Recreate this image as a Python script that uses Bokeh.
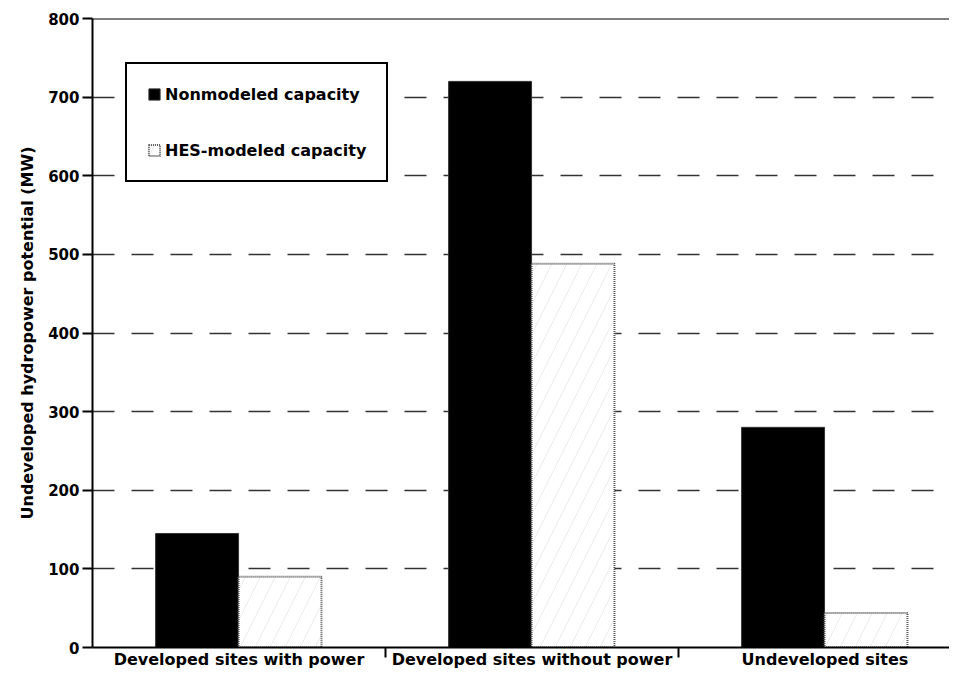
import numpy as np
from bokeh.plotting import figure
from bokeh.models import (ColumnDataSource, Range1d, FixedTicker, Span, Legend, LegendItem)
from bokeh.transform import dodge
from bokeh.embed import file_html
from bokeh.resources import INLINE

categories = ["Developed sites with power", "Developed sites without power", "Undeveloped sites"]
nonmodeled = [145, 720, 280]
hes_modeled = [90, 488, 44]
y_ticks = [0, 100, 200, 300, 400, 500, 600, 700, 800]

FONT = "DejaVu Sans"

pos = list(np.arange(len(categories)) + 0.5)
src = ColumnDataSource(dict(x=pos, non=nonmodeled, hes=hes_modeled))

p = figure(width=949, height=671, output_backend="svg", toolbar_location=None,
           x_range=Range1d(0, 2.925), y_range=Range1d(0, 800),
           min_border_left=92, min_border_top=18, min_border_right=0, min_border_bottom=20)
p.outline_line_color = None
p.background_fill_color = "white"

r1 = p.vbar(x=dodge("x", -0.143, range=p.x_range), top="non", width=0.283, source=src,
            fill_color="black", line_color="#333333", line_width=1)
r2 = p.vbar(x=dodge("x", 0.140, range=p.x_range), top="hes", width=0.283, source=src,
            fill_color="white", line_color="#555555", line_width=2, line_dash="1 1",
            hatch_pattern="/", hatch_scale=30, hatch_weight=0.5, hatch_color="#888888", hatch_alpha=0.35)

# top frame line
p.add_layout(Span(location=800, dimension="width", line_color="black", line_width=2))

# y axis
ya = p.yaxis[0]
ya.ticker = FixedTicker(ticks=y_ticks)
ya.axis_line_width = 2
ya.axis_line_color = "black"
ya.major_tick_out = 10
ya.major_tick_in = 0
ya.major_tick_line_width = 2
ya.minor_tick_line_color = None
ya.major_label_text_font = FONT
ya.major_label_text_font_style = "bold"
ya.major_label_text_font_size = "15px"
ya.major_label_text_color = "black"
ya.major_label_standoff = 3
ya.axis_label = "Undeveloped hydropower potential (MW)"
ya.axis_label_text_font = FONT
ya.axis_label_text_font_style = "bold"
ya.axis_label_text_font_size = "16px"
ya.axis_label_text_color = "black"
ya.axis_label_standoff = 8

# x axis
xa = p.xaxis[0]
xa.ticker = FixedTicker(ticks=pos, minor_ticks=[1, 2])
xa.major_label_overrides = {float(v): c for v, c in zip(pos, categories)}
xa.axis_line_width = 2
xa.axis_line_color = "black"
xa.major_tick_line_color = None
xa.major_tick_out = 0
xa.major_tick_in = 0
xa.minor_tick_out = 10
xa.minor_tick_in = 0
xa.minor_tick_line_width = 2
xa.minor_tick_line_color = "black"
xa.major_label_text_font = FONT
xa.major_label_text_font_style = "bold"
xa.major_label_text_font_size = "16px"
xa.major_label_text_color = "black"
xa.major_label_standoff = -8
xa.axis_label_standoff = 0

# grid
p.xgrid.grid_line_color = None
p.ygrid.ticker = FixedTicker(ticks=y_ticks[1:-1])
p.ygrid.grid_line_color = "#333333"
p.ygrid.grid_line_width = 1.5
p.ygrid.grid_line_dash = "22 17"

legend = Legend(items=[LegendItem(label="Nonmodeled capacity", renderers=[r1]),
                       LegendItem(label="HES-modeled capacity", renderers=[r2])],
                location=(33, 465), orientation="vertical",
                border_line_color="black", border_line_width=2, border_line_alpha=1,
                background_fill_color="white", background_fill_alpha=1,
                padding=20, spacing=36, margin=0,
                glyph_width=14, glyph_height=14, label_height=20, label_standoff=4,
                label_text_font=FONT, label_text_font_style="bold", label_text_font_size="16px",
                label_text_color="black")
p.add_layout(legend, "center")

open("out.html", "w").write(file_html(p, INLINE))
